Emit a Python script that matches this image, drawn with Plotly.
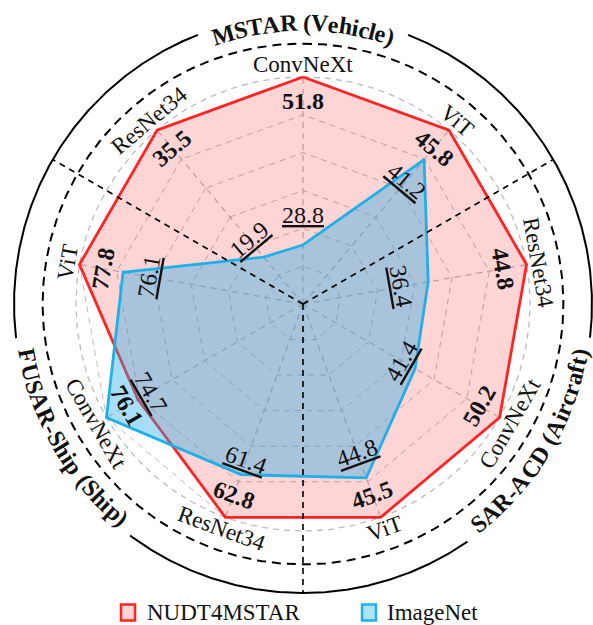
import math
import plotly.graph_objects as go

# ---------------- data ----------------
datasets = ["MSTAR (Vehicle)", "SAR-ACD (Aircraft)", "FUSAR-Ship (Ship)"]
dataset_centers = [0, 120, 240]          # angular centre of each dataset group (deg, clockwise from top)
backbones = ["ConvNeXt", "ViT", "ResNet34", "ConvNeXt", "ViT",
             "ResNet34", "ConvNeXt", "ViT", "ResNet34"]
axis_dataset = [0, 0, 1, 1, 1, 2, 2, 2, 0]
series_names = ["NUDT4MSTAR", "ImageNet"]
nudt_values = [51.8, 45.8, 44.8, 50.2, 45.5, 62.8, 76.1, 77.8, 35.5]
imagenet_values = [28.8, 41.2, 36.4, 41.4, 44.8, 61.4, 74.7, 76.1, 19.9]
# scaled scores as drawn on the radar (outer ring = 1)
nudt_scaled = [1.00, 1.00, 1.00, 1.00, 1.00, 1.00, 0.84, 1.00, 1.00]
imagenet_scaled = [0.26, 0.83, 0.56, 0.57, 0.815, 0.80, 1.00, 0.805, 0.27]
grid_levels = [1 / 6, 2 / 6, 3 / 6, 4 / 6, 5 / 6, 1.0]

# ---------------- style / geometry ----------------
W, H = 593, 625
CX, CY, U = 303.0, 304.0, 227.0   # centre (px) and px per unit radius
RMAX = 1.03
FONT = "Liberation Serif, Times New Roman, serif"
TXT = "#111111"
RED_LINE, RED_FILL = "rgb(255,35,35)", "rgba(255,0,0,0.17)"
BLUE_LINE, BLUE_FILL = "rgb(30,176,232)", "rgba(40,170,230,0.40)"
GRID = "rgb(188,188,188)"
GDASH = "6px,5px"
R_AXIS_LABEL = 1.053
R_BOLD = 0.895
blue_label_r = [0.39, 0.71, 0.44, 0.50, 0.70, 0.73, 0.775, 0.69, 0.37]
R_GRAY_CIRCLE = 1.0
R_DASH_CIRCLE = 1.147
R_SOLID = 1.273
R_TITLE = 1.238
title_shift = [0.0, 1.0, 0.0]   # small angular nudge of each title (deg)
TITLE_FS = 24
TITLE_MARGIN = 2.5  # deg

n = len(backbones)
step = 360.0 / n
thetas = [i * step for i in range(n)]
cats = [f"{i}:{backbones[i]}" for i in range(n)]


def xy(r, th):
    a = math.radians(th)
    return r * math.sin(a), r * math.cos(a)


def tang(th):
    t = th % 360
    if t >= 270:
        return t - 360
    if t > 90:
        return t - 180
    return t


def px(xp, yp):
    return (xp - CX) / U, (CY - yp) / U


fig = go.Figure()

# ---------- spokes (polar) ----------
sr, st = [], []
for c in cats:
    sr += [0, 1.0, None]
    st += [c, c, c]
fig.add_trace(go.Scatterpolar(r=sr, theta=st, mode="lines", connectgaps=False,
                              line=dict(color=GRID, width=1.3, dash=GDASH),
                              showlegend=False, hoverinfo="skip"))

# ---------- radar polygons (polar subplot) ----------
fig.add_trace(go.Scatterpolar(
    r=nudt_scaled + nudt_scaled[:1], theta=cats + cats[:1], mode="lines",
    fill="toself", fillcolor=RED_FILL, line=dict(color=RED_LINE, width=2.8),
    name=series_names[0], showlegend=False, hoverinfo="skip", cliponaxis=False))
fig.add_trace(go.Scatterpolar(
    r=imagenet_scaled + imagenet_scaled[:1], theta=cats + cats[:1], mode="lines",
    fill="toself", fillcolor=BLUE_FILL, line=dict(color=BLUE_LINE, width=2.8),
    name=series_names[1], showlegend=False, hoverinfo="skip", cliponaxis=False))

# ---------- decorative circles (cartesian overlay) ----------
def circle_pts(r, a0, a1, k=240):
    xs, ys = [], []
    for j in range(k + 1):
        t = a0 + (a1 - a0) * j / k
        x, y = xy(r, t)
        xs.append(x)
        ys.append(y)
    return xs, ys


xs, ys = circle_pts(R_GRAY_CIRCLE, 0, 360, 360)
fig.add_trace(go.Scatter(x=xs, y=ys, mode="lines", line=dict(color=GRID, width=1.3, dash=GDASH),
                         showlegend=False, hoverinfo="skip"))
xs, ys = circle_pts(R_DASH_CIRCLE, 0, 360, 360)
fig.add_trace(go.Scatter(x=xs, y=ys, mode="lines", line=dict(color="black", width=2, dash="9px,6px"),
                         showlegend=False, hoverinfo="skip"))


def title_width(text):
    TB = {' ': 250, '(': 333, ')': 333, '-': 333, 'A': 722, 'C': 722, 'D': 722, 'F': 611,
          'M': 944, 'R': 722, 'S': 556, 'T': 667, 'U': 722, 'V': 722, 'a': 500, 'c': 444,
          'e': 444, 'f': 333, 'h': 556, 'i': 278, 'l': 278, 'p': 556, 'r': 444, 't': 333}
    return [TB.get(c, 500) * TITLE_FS / 1000.0 for c in text]


title_centers = [dataset_centers[k] + title_shift[k] for k in range(len(datasets))]
half_gaps = []
for name in datasets:
    tot = sum(title_width(name))
    half_gaps.append(math.degrees(tot / (R_TITLE * U)) / 2 + TITLE_MARGIN)

for k in range(len(datasets)):
    a0 = title_centers[k] + half_gaps[k]
    k2 = (k + 1) % len(datasets)
    a1 = title_centers[k2] - half_gaps[k2] + (360 if k2 == 0 else 0)
    xs, ys = circle_pts(R_SOLID, a0, a1, 200)
    fig.add_trace(go.Scatter(x=xs, y=ys, mode="lines", line=dict(color="black", width=2),
                             showlegend=False, hoverinfo="skip"))

# ---------- separators between dataset groups ----------
shapes = []
for k in range(len(datasets)):
    th = dataset_centers[k] + 60
    x1, y1 = xy(R_SOLID, th)
    shapes.append(dict(type="line", xref="x", yref="y", x0=0, y0=0, x1=x1, y1=y1, layer="above",
                       line=dict(color="black", width=1.6, dash="6px,5px")))

annotations = []

# ---------- axis labels and values ----------
for i in range(n):
    th = thetas[i]
    rot = tang(th)
    x, y = xy(R_AXIS_LABEL, th)
    annotations.append(dict(x=x, y=y, xref="x", yref="y", text=backbones[i], showarrow=False,
                            textangle=rot, font=dict(family=FONT, size=23, color=TXT),
                            xanchor="center", yanchor="middle"))
    x, y = xy(R_BOLD, th)
    annotations.append(dict(x=x, y=y, xref="x", yref="y", text=f"<b>{nudt_values[i]:.1f}</b>",
                            showarrow=False, textangle=rot,
                            font=dict(family=FONT, size=24, color=TXT),
                            xanchor="center", yanchor="middle"))
    x, y = xy(blue_label_r[i], th)
    annotations.append(dict(x=x, y=y, xref="x", yref="y", text=f"<u>{imagenet_values[i]:.1f}</u>",
                            showarrow=False, textangle=rot,
                            font=dict(family=FONT, size=24, color=TXT),
                            xanchor="center", yanchor="middle"))

# ---------- curved dataset titles ----------
for k, name in enumerate(datasets):
    widths = title_width(name)
    total = sum(widths)
    flip = 90 < dataset_centers[k] % 360 < 270
    s = -total / 2
    for c, w in zip(name, widths):
        mid = s + w / 2
        s += w
        if c == " ":
            continue
        d = math.degrees(mid / (R_TITLE * U))
        th = title_centers[k] - d if flip else title_centers[k] + d
        rot = th - 180 if flip else th
        if rot > 180:
            rot -= 360
        x, y = xy(R_TITLE, th)
        annotations.append(dict(x=x, y=y, xref="x", yref="y", text=f"<b>{c}</b>", showarrow=False,
                                textangle=rot, font=dict(family=FONT, size=TITLE_FS, color=TXT),
                                xanchor="center", yanchor="middle", borderpad=0))

# ---------- legend (manual) ----------
legend_items = [(series_names[0], RED_LINE, RED_FILL, 128.0, 145.0),
                (series_names[1], BLUE_LINE, "rgba(120,210,245,0.6)", 369.0, 385.0)]
LEG_Y = 612.5
for name, lc, fc, bx, tx in legend_items:
    x0, y0 = px(bx - 7, LEG_Y - 8)
    x1, y1 = px(bx + 7, LEG_Y + 8)
    shapes.append(dict(type="rect", xref="x", yref="y", x0=x0, y0=y1, x1=x1, y1=y0,
                       line=dict(color=lc, width=2.5), fillcolor=fc, layer="above"))
    lx, ly = px(tx, LEG_Y)
    annotations.append(dict(x=lx, y=ly, xref="x", yref="y", text=name, showarrow=False,
                            font=dict(family=FONT, size=23, color=TXT),
                            xanchor="left", yanchor="middle"))

fig.update_layout(
    width=W, height=H, autosize=False,
    margin=dict(l=0, r=0, t=0, b=0, pad=0),
    paper_bgcolor="white", plot_bgcolor="rgba(0,0,0,0)",
    showlegend=False,
    xaxis=dict(range=[-CX / U, (W - CX) / U], visible=False, fixedrange=True),
    yaxis=dict(range=[-(H - CY) / U, CY / U], visible=False, fixedrange=True),
    polar=dict(
        domain=dict(x=[(CX - U * RMAX) / W, (CX + U * RMAX) / W],
                    y=[1 - (CY + U * RMAX) / H, 1 - (CY - U * RMAX) / H]),
        bgcolor="rgba(0,0,0,0)",
        gridshape="linear",
        angularaxis=dict(type="category", categoryarray=cats, rotation=90, direction="clockwise",
                         showticklabels=False, ticks="", showline=False, showgrid=False),
        radialaxis=dict(range=[0, RMAX], tickvals=grid_levels, showticklabels=False, ticks="",
                        showline=False, showgrid=True, gridcolor=GRID, griddash=GDASH,
                        gridwidth=1.3),
    ),
    shapes=shapes,
    annotations=annotations,
)

fig.write_html("out.html", config={"displayModeBar": False},
               post_script="document.body.style.margin='0';document.body.style.overflow='hidden';")
